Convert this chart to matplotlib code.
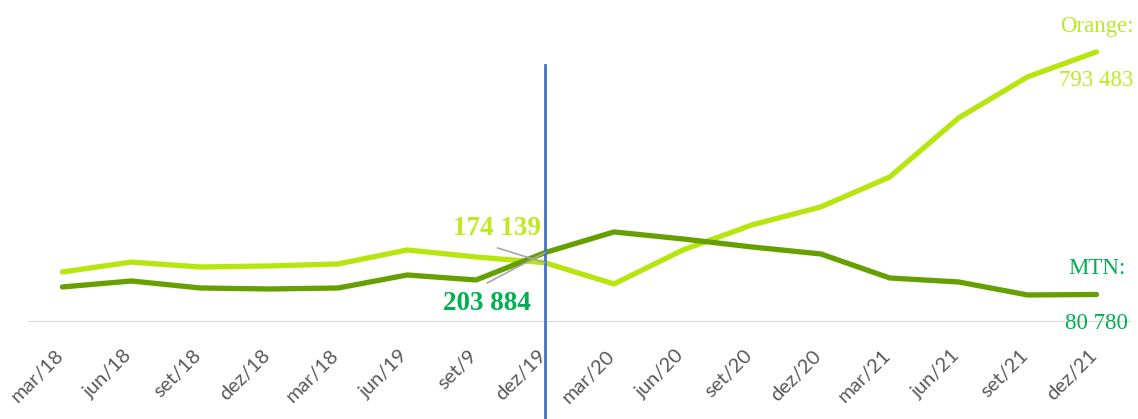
import matplotlib
matplotlib.use("Agg")
import matplotlib.pyplot as plt
import matplotlib.transforms as mtransforms

categories = ["mar/18", "jun/18", "set/18", "dez/18", "mar/18", "jun/19", "set/9", "dez/19",
              "mar/20", "jun/20", "set/20", "dez/20", "mar/21", "jun/21", "set/21", "dez/21"]
orange = [147000, 176000, 161600, 164600, 170500, 211600, 191000, 174139,
          111700, 211600, 285000, 338000, 426000, 599500, 720000, 793483]
mtn = [102900, 120500, 99900, 97000, 99900, 138100, 123400, 203884,
       264500, 243900, 220400, 199900, 129300, 117600, 79400, 80780]
divider_index = 7

C_OR_LINE = "#B7E60F"
C_MTN_LINE = "#66A000"
C_OR_TXT = "#BDEA22"
C_MTN_TXT = "#00B050"

W, H = 1138, 419
fig = plt.figure(figsize=(W / 100, H / 100), dpi=100)
ax = fig.add_axes([28 / W, 97 / H, (1131 - 28) / W, (322 - 20) / H])

x = list(range(len(categories)))
ax.plot(x, mtn, color=C_MTN_LINE, lw=3.8, solid_capstyle="round", solid_joinstyle="round", zorder=3)
ax.plot(x, orange, color=C_OR_LINE, lw=3.8, solid_capstyle="round", solid_joinstyle="round", zorder=2)

ax.set_xlim(-0.5, len(categories) - 0.5)
ax.set_ylim(0, 887000)
for s in ax.spines.values():
    s.set_visible(False)
ax.axhline(0, color="#D9D9D9", lw=1.5, zorder=1)
ax.set_yticks([])
ax.set_xticks(x)
ax.set_xticklabels(categories, rotation=45, ha="right", va="top",
                   fontsize=14.5, color="#595959", family="Lato")
ax.tick_params(axis="x", length=0, pad=18)
shift = mtransforms.ScaledTranslation(4 / 100, 0, fig.dpi_scale_trans)
for lbl in ax.get_xticklabels():
    lbl.set_transform(lbl.get_transform() + shift)

# vertical divider
trans = mtransforms.blended_transform_factory(ax.transData, ax.transAxes)
ax.plot([divider_index, divider_index], [-0.33, 0.851], transform=trans,
        color="#4472C4", lw=2, clip_on=False, zorder=4)

serif = "Liberation Serif"
# leader lines
ax.annotate("", xy=(divider_index, orange[divider_index]), xytext=(6.31, 217500),
            arrowprops=dict(arrowstyle="-", color="#A6A6A6", lw=1.2, shrinkA=0, shrinkB=0), zorder=5)
ax.annotate("", xy=(divider_index, mtn[divider_index]), xytext=(6.16, 114600),
            arrowprops=dict(arrowstyle="-", color="#A6A6A6", lw=1.2, shrinkA=0, shrinkB=0), zorder=5)
ax.text(6.31, 276000, "174 139", color=C_OR_TXT, fontsize=19.5, fontweight="bold",
        family=serif, ha="center", va="center")
ax.text(6.16, 52900, "203 884", color=C_MTN_TXT, fontsize=19.5, fontweight="bold",
        family=serif, ha="center", va="center")

last = len(categories) - 1
ax.annotate("Orange:", xy=(last, orange[last]), xytext=(0, 18), textcoords="offset points",
            ha="center", va="center", color=C_OR_TXT, fontsize=16.5, family=serif, annotation_clip=False)
ax.annotate("793 483", xy=(last, orange[last]), xytext=(0, -20.5), textcoords="offset points",
            ha="center", va="center", color=C_OR_TXT, fontsize=16.5, family=serif, annotation_clip=False)
ax.annotate("MTN:", xy=(last, mtn[last]), xytext=(0, 19), textcoords="offset points",
            ha="center", va="center", color=C_MTN_TXT, fontsize=16.5, family=serif, annotation_clip=False)
ax.annotate("80 780", xy=(last, mtn[last]), xytext=(0, -21), textcoords="offset points",
            ha="center", va="center", color=C_MTN_TXT, fontsize=16.5, family=serif, annotation_clip=False)

fig.savefig("out.png", dpi=100)
